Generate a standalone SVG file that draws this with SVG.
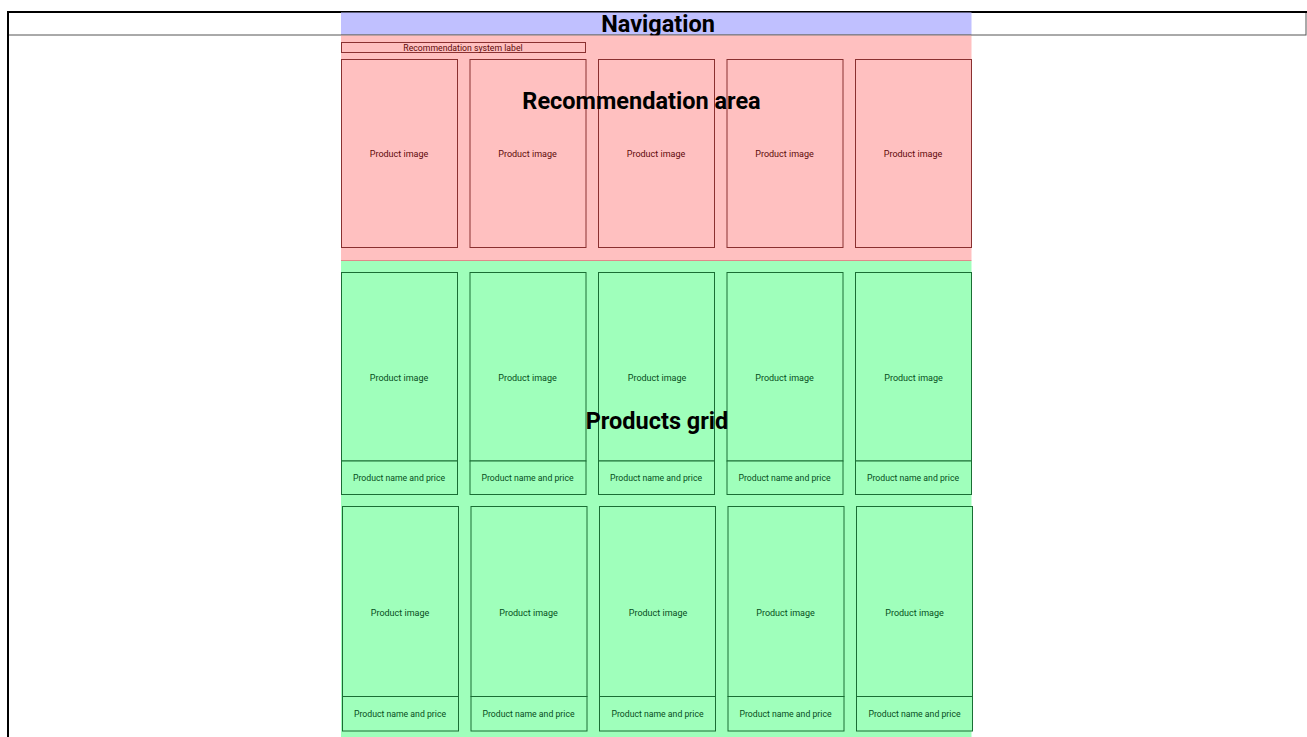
<svg xmlns="http://www.w3.org/2000/svg" width="1307" height="737" viewBox="0 0 1307 737">
<style>
text{font-family:Roboto,"Liberation Sans",sans-serif;text-anchor:middle;dominant-baseline:central}
.big{font-size:23.5px;font-weight:bold;fill:#000}
.pc{fill:#ffc0c0;stroke:#8a3030;stroke-width:1}
.pt{font-size:9px;fill:#5e0a0a}
.gc{fill:#9fffbb;stroke:#1a6e34;stroke-width:1}
.gt{font-size:9px;fill:#064e1c}
.nm{font-size:8.7px}
</style>
<g id="page">
<rect x="8" y="12" width="1298" height="23" fill="#fff" stroke="#555" stroke-width="1"/>
<line x1="7" y1="12" x2="1307" y2="12" stroke="#000" stroke-width="2"/>
<line x1="8" y1="11" x2="8" y2="737" stroke="#000" stroke-width="2"/>
</g>
<g id="navigation">
<rect x="341" y="12.5" width="630.5" height="22" fill="#c0c0ff"/>
<line x1="341" y1="35" x2="971.5" y2="35" stroke="#555" stroke-width="1"/>
<text class="big" x="658" y="24">Navigation</text>
</g>
<g id="recommendation-area">
<rect x="341" y="35.5" width="630.5" height="225" fill="#ffc0c0"/>
<line x1="341" y1="260.5" x2="971.5" y2="260.5" stroke="#e08a8a" stroke-width="1"/>
</g>
<g id="products-grid">
<rect x="341" y="261" width="630.5" height="476" fill="#9fffbb"/>
</g>
<g id="rec-label">
<rect x="341.5" y="42.5" width="244" height="10" class="pc"/>
<text class="pt" x="463" y="47.5" style="font-size:8.7px">Recommendation system label</text>
</g>
<g id="rec-card-1"><rect class="pc" x="341.5" y="59.5" width="116" height="188"/><text class="pt" x="399" y="153.5">Product image</text></g>
<g id="rec-card-2"><rect class="pc" x="470" y="59.5" width="116" height="188"/><text class="pt" x="527.5" y="153.5">Product image</text></g>
<g id="rec-card-3"><rect class="pc" x="598.5" y="59.5" width="116" height="188"/><text class="pt" x="656" y="153.5">Product image</text></g>
<g id="rec-card-4"><rect class="pc" x="727" y="59.5" width="116" height="188"/><text class="pt" x="784.5" y="153.5">Product image</text></g>
<g id="rec-card-5"><rect class="pc" x="855.5" y="59.5" width="116" height="188"/><text class="pt" x="913" y="153.5">Product image</text></g>
<text class="big" x="641.5" y="101">Recommendation area</text>
<g id="grid-card-1-1"><rect class="gc" x="341.5" y="272.5" width="116" height="188.5"/><rect class="gc" x="341.5" y="461" width="116" height="33.5"/><text class="gt" x="399" y="377.5">Product image</text><text class="gt nm" x="399" y="478">Product name and price</text></g>
<g id="grid-card-1-2"><rect class="gc" x="470" y="272.5" width="116" height="188.5"/><rect class="gc" x="470" y="461" width="116" height="33.5"/><text class="gt" x="527.5" y="377.5">Product image</text><text class="gt nm" x="527.5" y="478">Product name and price</text></g>
<g id="grid-card-1-3"><rect class="gc" x="598.5" y="272.5" width="116" height="188.5"/><rect class="gc" x="598.5" y="461" width="116" height="33.5"/><text class="gt" x="657" y="377.5">Product image</text><text class="gt nm" x="656" y="478">Product name and price</text></g>
<g id="grid-card-1-4"><rect class="gc" x="727" y="272.5" width="116" height="188.5"/><rect class="gc" x="727" y="461" width="116" height="33.5"/><text class="gt" x="784.5" y="377.5">Product image</text><text class="gt nm" x="784.5" y="478">Product name and price</text></g>
<g id="grid-card-1-5"><rect class="gc" x="855.5" y="272.5" width="116" height="188.5"/><rect class="gc" x="855.5" y="461" width="116" height="33.5"/><text class="gt" x="913.5" y="377.5">Product image</text><text class="gt nm" x="913" y="478">Product name and price</text></g>
<g id="grid-card-2-1"><rect class="gc" x="342.5" y="506.5" width="116" height="190"/><rect class="gc" x="342.5" y="696.5" width="116" height="34.5"/><text class="gt" x="400" y="612.5">Product image</text><text class="gt nm" x="400" y="714">Product name and price</text></g>
<g id="grid-card-2-2"><rect class="gc" x="471" y="506.5" width="116" height="190"/><rect class="gc" x="471" y="696.5" width="116" height="34.5"/><text class="gt" x="528.5" y="612.5">Product image</text><text class="gt nm" x="528.5" y="714">Product name and price</text></g>
<g id="grid-card-2-3"><rect class="gc" x="599.5" y="506.5" width="116" height="190"/><rect class="gc" x="599.5" y="696.5" width="116" height="34.5"/><text class="gt" x="658" y="612.5">Product image</text><text class="gt nm" x="657.5" y="714">Product name and price</text></g>
<g id="grid-card-2-4"><rect class="gc" x="728" y="506.5" width="116" height="190"/><rect class="gc" x="728" y="696.5" width="116" height="34.5"/><text class="gt" x="785.5" y="612.5">Product image</text><text class="gt nm" x="785.5" y="714">Product name and price</text></g>
<g id="grid-card-2-5"><rect class="gc" x="856.5" y="506.5" width="116" height="190"/><rect class="gc" x="856.5" y="696.5" width="116" height="34.5"/><text class="gt" x="914.5" y="612.5">Product image</text><text class="gt nm" x="914.5" y="714">Product name and price</text></g>
<text class="big" x="657" y="421">Products grid</text>
<g id="connectors"/>
</svg>
